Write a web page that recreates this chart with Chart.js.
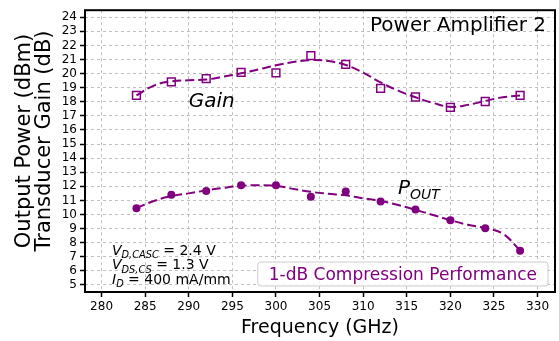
<!DOCTYPE html>
<html>
<head>
<meta charset="utf-8">
<script src="https://cdn.jsdelivr.net/npm/chart.js@4.4.0/dist/chart.umd.min.js"></script>
<style>
  html, body { margin: 0; padding: 0; overflow: hidden; background: #fff; }
  canvas { display: block; }
</style>
</head>
<body>
<canvas id="chart" width="562" height="341"></canvas>
<script>
// measured points (GHz)
const freq = [284, 288, 292, 296, 300, 304, 308, 312, 316, 320, 324, 328];
const gain = [18.45, 19.42, 19.65, 20.08, 20.05, 21.27, 20.66, 18.95, 18.34, 17.6, 18.02, 18.45];
const pout = [10.44, 11.4, 11.66, 12.08, 12.08, 11.26, 11.64, 10.93, 10.35, 9.6, 9.02, 7.43];

// dashed fit curves, every 2 GHz
const fitFreq = [284, 286, 288, 290, 292, 294, 296, 298, 300, 302, 304, 306, 308, 310, 312, 314, 316, 318, 320, 322, 324, 326, 328];
const gainFit = [18.45, 19.15, 19.45, 19.53, 19.58, 19.79, 20.02, 20.3, 20.59, 20.82, 20.96, 20.89, 20.61, 20.07, 19.37, 18.79, 18.32, 17.92, 17.64, 17.78, 18.06, 18.32, 18.44];
const poutFit = [10.45, 10.96, 11.31, 11.5, 11.71, 11.89, 12.03, 12.08, 12.03, 11.82, 11.61, 11.47, 11.36, 11.15, 10.96, 10.68, 10.33, 9.97, 9.6, 9.27, 9.04, 8.65, 7.45];

const xTicks = [280, 285, 290, 295, 300, 305, 310, 315, 320, 325, 330];
const yTicks = [5, 6, 7, 8, 9, 10, 11, 12, 13, 14, 15, 16, 17, 18, 19, 20, 21, 22, 23, 24];

const purple = '#800080';
const fontFam = '"DejaVu Sans", sans-serif';

function pts(xs, ys) {
  return xs.map((x, i) => ({ x: x, y: ys[i] }));
}

// draw text made of pieces, some of them subscripts
function drawRich(ctx, x, y, parts, size, color) {
  ctx.fillStyle = color;
  ctx.textAlign = 'left';
  ctx.textBaseline = 'alphabetic';
  let cx = x;
  parts.forEach(p => {
    const s = p.sub ? size * 0.7 : size;
    ctx.font = (p.it ? 'italic ' : '') + s + 'px ' + fontFam;
    ctx.fillText(p.t, cx, p.sub ? y + size * 0.25 : y);
    cx += ctx.measureText(p.t).width;
  });
}

function rotatedText(ctx, text, x, y, size) {
  ctx.save();
  ctx.font = size + 'px ' + fontFam;
  ctx.fillStyle = '#000';
  ctx.textAlign = 'center';
  ctx.textBaseline = 'alphabetic';
  ctx.translate(x, y);
  ctx.rotate(-Math.PI / 2);
  ctx.fillText(text, 0, 0);
  ctx.restore();
}

const textPlugin = {
  id: 'paText',
  afterDatasetsDraw(chart) {
    const ctx = chart.ctx;
    const a = chart.chartArea;
    const xs = chart.scales.x, ys = chart.scales.y;
    ctx.save();

    // frame
    ctx.strokeStyle = '#000';
    ctx.lineWidth = 2;
    ctx.strokeRect(a.left, a.top, a.right - a.left, a.bottom - a.top);

    // title in the corner
    ctx.fillStyle = '#000';
    ctx.font = '20px ' + fontFam;
    ctx.textAlign = 'right';
    ctx.textBaseline = 'alphabetic';
    ctx.fillText('Power Amplifier 2', a.right - 9, a.top + 21);

    // curve labels
    drawRich(ctx, xs.getPixelForValue(290), ys.getPixelForValue(17.6), [{ t: 'Gain', it: true }], 20, '#000');
    drawRich(ctx, xs.getPixelForValue(314), ys.getPixelForValue(11.45), [{ t: 'P', it: true }, { t: 'OUT', it: true, sub: true }], 20, '#000');

    // bias conditions
    const bx = a.left + 27;
    drawRich(ctx, bx, 254.5, [{ t: 'V', it: true }, { t: 'D,CASC', it: true, sub: true }, { t: ' = 2.4 V' }], 14, '#000');
    drawRich(ctx, bx, 269, [{ t: 'V', it: true }, { t: 'DS,CS', it: true, sub: true }, { t: ' = 1.3 V' }], 14, '#000');
    drawRich(ctx, bx, 283.5, [{ t: 'I', it: true }, { t: 'D', it: true, sub: true }, { t: ' = 400 mA/mm' }], 14, '#000');

    // boxed label
    const label = '1-dB Compression Performance';
    ctx.font = '17px ' + fontFam;
    const tw = ctx.measureText(label).width;
    const bR = a.right - 7, bB = a.bottom - 6, bH = 24;
    const bL = bR - tw - 22;
    ctx.beginPath();
    ctx.roundRect(bL, bB - bH, bR - bL, bH, 3);
    ctx.fillStyle = 'rgba(255,255,255,0.85)';
    ctx.fill();
    ctx.strokeStyle = '#cccccc';
    ctx.lineWidth = 1;
    ctx.stroke();
    ctx.fillStyle = purple;
    ctx.textAlign = 'left';
    ctx.fillText(label, bL + 11, bB - 6);

    // axis titles
    ctx.fillStyle = '#000';
    ctx.font = '19px ' + fontFam;
    ctx.textAlign = 'center';
    ctx.fillText('Frequency (GHz)', (a.left + a.right) / 2, 333);
    ctx.restore();

    const cy = 141;
    rotatedText(ctx, 'Output Power (dBm)', 30, cy, 21);
    rotatedText(ctx, 'Transducer Gain (dB)', 49.5, cy, 21);
  }
};

const gridOpts = {
  color: 'rgba(170,170,170,0.75)',
  lineWidth: 1,
  tickLength: 5,
  tickColor: '#000',
  tickWidth: 1.5,
  tickBorderDash: []
};

new Chart(document.getElementById('chart'), {
  type: 'line',
  data: {
    datasets: [
      {
        label: 'Gain fit',
        data: pts(fitFreq, gainFit),
        borderColor: purple,
        borderWidth: 2,
        borderDash: [9, 4],
        pointRadius: 0,
        tension: 0.4,
        fill: false
      },
      {
        label: 'Gain',
        data: pts(freq, gain),
        showLine: false,
        pointStyle: 'rect',
        pointRadius: 5.5,
        pointBorderWidth: 1.5,
        pointBorderColor: purple,
        pointBackgroundColor: 'rgba(255,255,255,0)'
      },
      {
        label: 'Pout fit',
        data: pts(fitFreq, poutFit),
        borderColor: purple,
        borderWidth: 2,
        borderDash: [9, 4],
        pointRadius: 0,
        tension: 0.4,
        fill: false
      },
      {
        label: 'Pout',
        data: pts(freq, pout),
        showLine: false,
        pointStyle: 'circle',
        pointRadius: 4,
        pointBorderWidth: 0,
        pointBackgroundColor: purple
      }
    ]
  },
  options: {
    responsive: false,
    animation: false,
    events: [],
    layout: { padding: { top: 7, right: 1, left: 0, bottom: 0 } },
    plugins: {
      legend: { display: false },
      tooltip: { enabled: false }
    },
    scales: {
      x: {
        type: 'linear',
        min: 278.1,
        max: 332,
        afterBuildTicks: s => { s.ticks = xTicks.map(v => ({ value: v })); },
        afterFit: s => { s.height = 49; },
        grid: gridOpts,
        border: { display: false, dash: [3, 3] },
        ticks: { color: '#000', padding: 3, maxRotation: 0, font: { family: fontFam, size: 12 } }
      },
      y: {
        min: 4.5,
        max: 24.5,
        afterBuildTicks: s => { s.ticks = yTicks.map(v => ({ value: v })); },
        afterFit: s => { s.width = 85; },
        grid: gridOpts,
        border: { display: false, dash: [3, 3] },
        ticks: { color: '#000', padding: 3, autoSkip: false, font: { family: fontFam, size: 12 } }
      }
    }
  },
  plugins: [textPlugin]
});
</script>
</body>
</html>
